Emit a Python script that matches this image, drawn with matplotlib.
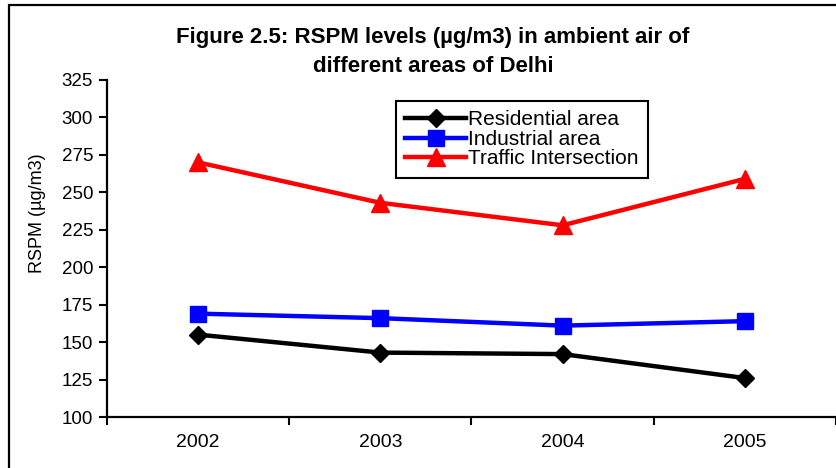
import matplotlib
matplotlib.use("Agg")
import matplotlib.pyplot as plt
from matplotlib.patches import Rectangle

years = ["2002", "2003", "2004", "2005"]
residential = [155, 143, 142, 126]
industrial = [169, 166, 161, 164]
traffic = [270, 243, 228, 259]
series_names = ["Residential area", "Industrial area", "Traffic Intersection"]
yticks = [100, 125, 150, 175, 200, 225, 250, 275, 300, 325]

plt.rcParams['font.family'] = ['Liberation Sans', 'DejaVu Sans']

W, H = 837, 468
fig = plt.figure(figsize=(W / 100, H / 100), dpi=100)

# outer chart border (extends beyond right/bottom edges)
fig.patches.append(Rectangle((9 / W, -0.05), 1.2, 1 - 5 / H + 0.05,
                             transform=fig.transFigure, fill=False,
                             edgecolor='black', linewidth=1.6))

ax = fig.add_axes([107 / W, 1 - 417 / H, (836 - 107) / W, (417 - 80) / H])
x = list(range(len(years)))

ax.plot(x, residential, color='black', lw=3.2, marker='D', ms=9.5,
        mfc='black', mec='black', label=series_names[0])
ax.plot(x, industrial, color='#0000FF', lw=3.2, marker='s', ms=12,
        mfc='#0000FF', mec='#0000FF', label=series_names[1])
ax.plot(x, traffic, color='#FF0000', lw=3.2, marker='^', ms=13,
        mfc='#FF0000', mec='#FF0000', label=series_names[2])

ax.set_xlim(-0.5, len(years) - 0.5)
ax.set_ylim(100, 325)
ax.set_yticks(yticks)
ax.set_yticklabels([str(v) for v in yticks], fontsize=13.5)
ax.set_xticks([i - 0.5 for i in range(len(years) + 1)])
ax.set_xticklabels([])
ax.set_xticks(x, minor=True)
ax.set_xticklabels(years, minor=True, fontsize=14)
ax.tick_params(axis='x', which='minor', length=0, pad=12)
ax.tick_params(axis='x', which='major', direction='out', length=6, width=1.5)
ax.tick_params(axis='y', direction='out', length=6, width=1.5, pad=4)

for s in ['top', 'right']:
    ax.spines[s].set_visible(False)
for s in ['left', 'bottom']:
    ax.spines[s].set_linewidth(1.6)

fig.text(38 / W, 1 - 213 / H, "RSPM (µg/m3)", rotation=90, fontsize=13,
         ha='center', va='center')

fig.text(433 / W, 1 - 38 / H, "Figure 2.5: RSPM levels (µg/m3) in ambient air of",
         fontsize=16, fontweight='bold', ha='center', va='center')
fig.text(433 / W, 1 - 66 / H, "different areas of Delhi",
         fontsize=16, fontweight='bold', ha='center', va='center')

leg = ax.legend(loc='upper left', bbox_to_anchor=(396 / W, 1 - 101 / H),
                bbox_transform=fig.transFigure, fontsize=15, frameon=True,
                fancybox=False, edgecolor='black', framealpha=1,
                handlelength=2.9, handletextpad=0.12, labelspacing=0.02,
                borderpad=0.45, borderaxespad=0)
leg.get_frame().set_linewidth(1.5)

fig.savefig("out.png", dpi=100)
